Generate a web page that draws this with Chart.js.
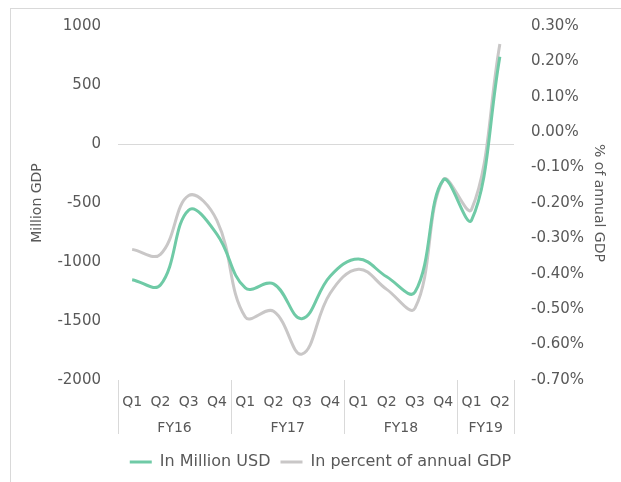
<!DOCTYPE html>
<html>
<head>
<meta charset="utf-8">
<script src="https://cdn.jsdelivr.net/npm/chart.js@4/dist/chart.umd.min.js"></script>
<style>
  body { margin: 0; background: #fff; }
  #frame { position: absolute; left: 10px; top: 8px; width: 700px; height: 600px; border: 1px solid #d9d9d9; }
  #chart { position: absolute; left: 0; top: 0; }
</style>
</head>
<body>
<div id="frame"></div>
<canvas id="chart" width="621" height="482"></canvas>
<script>
// quarters along the x axis, grouped by fiscal year
var quarters = ["Q1", "Q2", "Q3", "Q4", "Q1", "Q2", "Q3", "Q4", "Q1", "Q2", "Q3", "Q4", "Q1", "Q2"];
var fyLabels = ["FY16", "FY17", "FY18", "FY19"];
var fyCounts = [4, 4, 4, 2];

// series values
var millionUsd = [-1150, -1195, -560, -765, -1220, -1185, -1480, -1120, -975, -1125, -1255, -305, -645, 740];
var pctOfGdp = [-0.331, -0.345, -0.179, -0.25, -0.522, -0.506, -0.627, -0.455, -0.387, -0.444, -0.497, -0.134, -0.218, 0.249];

var textColor = "#595959";
var fontFamily = "'DejaVu Sans', sans-serif";

// draws FY group labels and separators under the quarter ticks
var fyGroups = {
	id: "fyGroups",
	afterDraw: function(chart) {
		var x = chart.scales.x;
		var ctx = chart.ctx;
		var half = (x.getPixelForValue(1) - x.getPixelForValue(0)) / 2;
		var top = chart.chartArea.bottom;
		var bottom = top + 54;
		ctx.save();
		ctx.strokeStyle = "#d9d9d9";
		ctx.lineWidth = 1;
		ctx.fillStyle = textColor;
		ctx.font = "14px " + fontFamily;
		ctx.textAlign = "center";
		ctx.textBaseline = "middle";
		var start = 0;
		var bounds = [x.getPixelForValue(0) - half];
		for (var i = 0; i < fyLabels.length; i++) {
			var end = start + fyCounts[i] - 1;
			var left = x.getPixelForValue(start) - half;
			var right = x.getPixelForValue(end) + half;
			bounds.push(right);
			ctx.fillText(fyLabels[i], (left + right) / 2, top + 48);
			start = end + 1;
		}
		bounds.forEach(function(b) {
			var px = Math.round(b) + 0.5;
			ctx.beginPath();
			ctx.moveTo(px, top);
			ctx.lineTo(px, bottom);
			ctx.stroke();
		});
		ctx.restore();
	}
};

var data = {
	labels: quarters,
	datasets: [
		{
			label: "In Million USD",
			data: millionUsd,
			yAxisID: "y",
			borderColor: "#6fcaa6",
			backgroundColor: "#6fcaa6",
			borderWidth: 3,
			pointRadius: 0,
			tension: 0.4,
			fill: false
		},
		{
			label: "In percent of annual GDP",
			data: pctOfGdp,
			yAxisID: "y1",
			borderColor: "#c9c7c7",
			backgroundColor: "#c9c7c7",
			borderWidth: 3,
			pointRadius: 0,
			tension: 0.4,
			fill: false
		}
	]
};

var options = {
	responsive: false,
	animation: false,
	layout: { padding: { top: 24, left: 20, right: 0, bottom: 2 } },
	scales: {
		x: {
			offset: true,
			grid: { display: false },
			border: { display: false },
			ticks: { color: textColor, font: { family: fontFamily, size: 14 }, padding: 6, autoSkip: false, maxRotation: 0 },
			afterFit: function(scale) { scale.height = 64; }
		},
		y: {
			position: "left",
			min: -2000,
			max: 1000,
			ticks: {
				stepSize: 500,
				color: textColor,
				font: { family: fontFamily, size: 15 },
				padding: 17,
				callback: function(v) { return String(v); }
			},
			grid: {
				drawTicks: false,
				color: function(c) { return c.tick && c.tick.value === 0 ? "#d9d9d9" : "rgba(0,0,0,0)"; }
			},
			border: { display: false },
			title: { display: true, text: "Million GDP", color: textColor, font: { family: fontFamily, size: 14 }, padding: { top: 9, bottom: 0 } },
			afterFit: function(scale) { scale.width = 98; }
		},
		y1: {
			position: "right",
			min: -0.7,
			max: 0.3,
			ticks: {
				stepSize: 0.1,
				color: textColor,
				font: { family: fontFamily, size: 15 },
				padding: 17,
				callback: function(v) { return (Math.abs(v) < 1e-9 ? 0 : v).toFixed(2) + "%"; }
			},
			grid: { display: false, drawTicks: false },
			border: { display: false },
			title: { display: true, text: "% of annual GDP", color: textColor, font: { family: fontFamily, size: 14 }, padding: { top: 14, bottom: 0 } },
			afterFit: function(scale) { scale.width = 107; }
		}
	},
	plugins: {
		legend: {
			position: "bottom",
			labels: {
				color: textColor,
				font: { family: fontFamily, size: 16 },
				usePointStyle: true,
				pointStyle: "line",
				pointStyleWidth: 22,
				padding: 10
			}
		},
		tooltip: { enabled: false }
	}
};

var chart = new Chart(document.getElementById("chart"), {
	type: "line",
	data: data,
	options: options,
	plugins: [fyGroups]
});
</script>
</body>
</html>
